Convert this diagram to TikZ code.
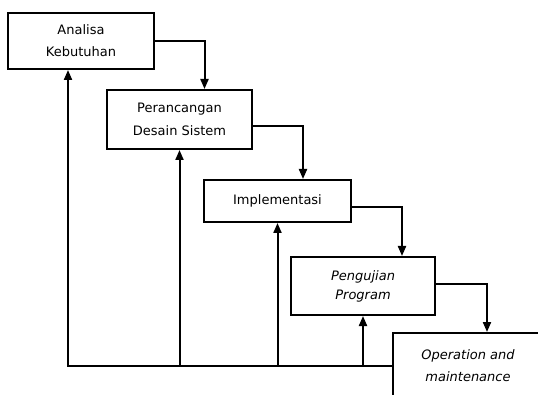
\documentclass[tikz,border=0pt]{standalone}
\usepackage{fontspec}
\setmainfont{DejaVu Sans}
\usetikzlibrary{arrows.meta}
\tikzset{
  stage/.style={draw, line width=2pt, inner sep=0pt, align=center,
    font=\fontsize{13}{22}\selectfont},
  arr/.style={line width=2pt, -{Triangle[length=10pt,width=8pt]}}
}
\begin{document}
\begin{tikzpicture}[x=1pt,y=-1pt]
\useasboundingbox (0,0) rectangle (538,395);
\clip (0,0) rectangle (538,395);
\node[stage, minimum width=146pt, minimum height=56pt] (a) at (81,41) {Analisa\\Kebutuhan};
\node[stage, minimum width=145pt, minimum height=59pt] (b) at (179.5,119.5) {Perancangan\\[1pt]Desain Sistem};
\node[stage, minimum width=147pt, minimum height=42pt] (c) at (277.5,201) {Implementasi};
\node[stage, minimum width=144pt, minimum height=58pt] (d) at (363,286) {\itshape Pengujian\\[-3pt]\itshape Program};
\node[stage, minimum width=150pt, minimum height=66pt] (e) at (468,366) {\raisebox{7pt}{\begin{tabular}{@{}c@{}}\itshape Operation and\\[0pt]\itshape maintenance\end{tabular}}};
% forward flow
\draw[arr] (a.east) -| ([xshift=25pt]b.north);
\draw[arr] ([yshift=-7pt]b.east) -| ([xshift=25.5pt]c.north);
\draw[arr] ([yshift=-6pt]c.east) -| ([xshift=39pt]d.north);
\draw[arr] ([yshift=2pt]d.east) -| ([xshift=19pt]e.north);
% feedback
\coordinate (cL) at (68,366);
\draw[arr] (e.west) -- (cL) -- (cL |- a.south);
\draw[arr] (b.south |- cL) -- (b.south);
\draw[arr] (c.south |- cL) -- (c.south);
\draw[arr] (d.south |- cL) -- (d.south);
\end{tikzpicture}
\end{document}
